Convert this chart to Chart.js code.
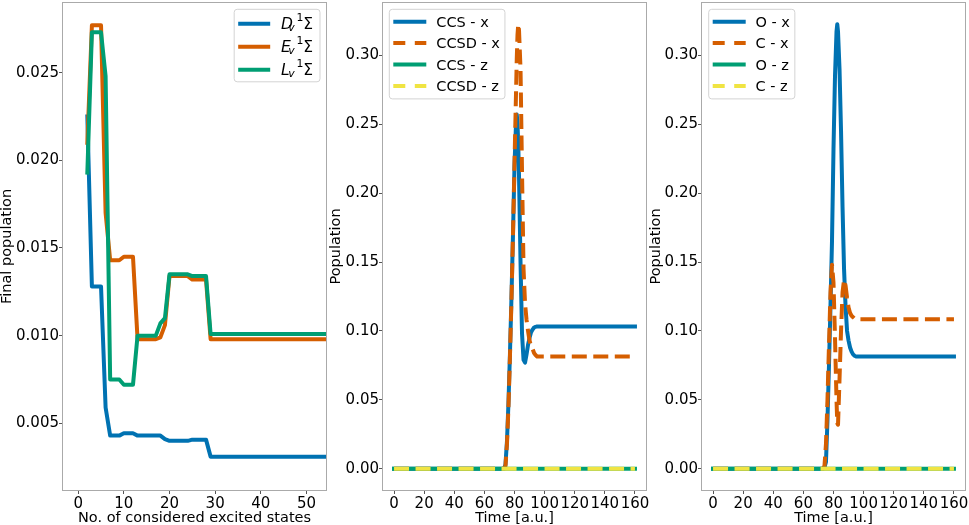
<!DOCTYPE html>
<html>
<head>
<meta charset="utf-8">
<script src="https://cdn.jsdelivr.net/npm/chart.js@4.4.1/dist/chart.umd.min.js"></script>
<style>
html, body { margin: 0; padding: 0; background: #ffffff; }
#wrap { position: relative; width: 969px; height: 525px; overflow: hidden; background: #fff; }
.panel { position: absolute; top: 0; height: 525px; }
</style>
</head>
<body>
<div id="wrap">
  <div class="panel" style="left:0px;width:329px"><canvas id="c1"></canvas></div>
  <div class="panel" style="left:329px;width:320px"><canvas id="c2"></canvas></div>
  <div class="panel" style="left:649px;width:320px"><canvas id="c3"></canvas></div>
</div>
<script>
// ---------------- DATA ----------------
// Panel 1: final population vs number of considered excited states
const excitedStates = [2, 3, 4, 5, 6, 7, 8, 9, 10, 11, 12, 13, 14, 15, 16, 17, 18, 19, 20, 21, 22, 23, 24, 25, 26, 27, 28,
  29, 30, 31, 32, 33, 34, 35, 36, 37, 38, 39, 40, 41, 42, 43, 44, 45, 46, 47, 48, 49, 50, 51, 52, 53, 54, 55];
const popD = [0.0225, 0.0128, 0.0128, 0.0128, 0.0059, 0.0043, 0.0043, 0.0043, 0.00443, 0.00443, 0.00443,
  0.0043, 0.0043, 0.0043, 0.0043, 0.0043, 0.0043, 0.0041, 0.0040, 0.0040, 0.0040, 0.0040, 0.0040,
  0.00407, 0.00407, 0.00407, 0.00407,
  0.0031, 0.0031, 0.0031, 0.0031, 0.0031, 0.0031, 0.0031, 0.0031, 0.0031,
  0.0031, 0.0031, 0.0031, 0.0031, 0.0031, 0.0031, 0.0031, 0.0031, 0.0031,
  0.0031, 0.0031, 0.0031, 0.0031, 0.0031, 0.0031, 0.0031, 0.0031, 0.0031];
const popE = [0.0210, 0.0277, 0.0277, 0.0277, 0.0170, 0.0143, 0.0143, 0.0143, 0.0145, 0.0145, 0.0145,
  0.0098, 0.0098, 0.0098, 0.0098, 0.0098, 0.0099, 0.0106, 0.0134, 0.0134, 0.0134, 0.0134, 0.0134,
  0.0132, 0.0132, 0.0132, 0.0132,
  0.0098, 0.0098, 0.0098, 0.0098, 0.0098, 0.0098, 0.0098, 0.0098, 0.0098,
  0.0098, 0.0098, 0.0098, 0.0098, 0.0098, 0.0098, 0.0098, 0.0098, 0.0098,
  0.0098, 0.0098, 0.0098, 0.0098, 0.0098, 0.0098, 0.0098, 0.0098, 0.0098];
const popL = [0.0193, 0.0273, 0.0273, 0.0273, 0.0248, 0.0075, 0.0075, 0.0075, 0.0072, 0.0072, 0.0072,
  0.0100, 0.0100, 0.0100, 0.0100, 0.0100, 0.0107, 0.0110, 0.0135, 0.0135, 0.0135, 0.0135, 0.0135,
  0.0134, 0.0134, 0.0134, 0.0134,
  0.0101, 0.0101, 0.0101, 0.0101, 0.0101, 0.0101, 0.0101, 0.0101, 0.0101,
  0.0101, 0.0101, 0.0101, 0.0101, 0.0101, 0.0101, 0.0101, 0.0101, 0.0101,
  0.0101, 0.0101, 0.0101, 0.0101, 0.0101, 0.0101, 0.0101, 0.0101, 0.0101];
const stateSymbols = ['D', 'E', 'L'];

// Panel 2: CCS vs CCSD populations in time
const times2 = [0, 10, 20, 30, 40, 50, 60, 70, 72, 73, 74, 75, 76, 77, 78, 79, 80, 81, 81.5, 82, 82.5,
  83, 84, 85, 86, 87, 88, 89, 90, 91, 92, 93, 94, 95, 96, 98, 100, 110, 120, 130, 140, 150, 160];
const popCCSx = [0, 0, 0, 0, 0, 0, 0, 0, 0, 0, 0.003, 0.02, 0.048, 0.084, 0.125, 0.17, 0.22, 0.25, 0.257, 0.25, 0.235,
  0.212, 0.15, 0.098, 0.079, 0.077, 0.083, 0.09, 0.095, 0.099, 0.101, 0.1025, 0.103, 0.1033, 0.1033,
  0.1033, 0.1033, 0.1033, 0.1033, 0.1033, 0.1033, 0.1033, 0.1033];
const popCCSDx = [0, 0, 0, 0, 0, 0, 0, 0, 0, 0, 0.002, 0.018, 0.045, 0.082, 0.123, 0.17, 0.222, 0.272, 0.297, 0.315, 0.3225,
  0.318, 0.29, 0.215, 0.145, 0.12, 0.108, 0.1, 0.093, 0.089, 0.087, 0.084, 0.0825, 0.0815, 0.0815,
  0.0815, 0.0815, 0.0815, 0.0815, 0.0815, 0.0815, 0.0815, 0.0815];

// Panel 3: O vs C populations in time
const times3 = [0, 10, 20, 30, 40, 50, 60, 70, 72, 73, 74, 75, 76, 77, 78, 79, 80, 81, 82, 82.5,
  83, 84, 85, 86, 87, 88, 89, 90, 91, 92, 93, 94, 95, 96, 98, 100, 110, 120, 130, 140, 150, 160];
const popOx = [0, 0, 0, 0, 0, 0, 0, 0, 0, 0, 0.001, 0.005, 0.035, 0.075, 0.118, 0.165, 0.232, 0.285, 0.317, 0.3225,
  0.317, 0.29, 0.245, 0.19, 0.145, 0.118, 0.1, 0.093, 0.088, 0.085, 0.083, 0.082, 0.0815, 0.0815,
  0.0815, 0.0815, 0.0815, 0.0815, 0.0815, 0.0815, 0.0815, 0.0815];
const popCx = [0, 0, 0, 0, 0, 0, 0, 0, 0, 0, 0.002, 0.018, 0.05, 0.09, 0.128, 0.148, 0.135, 0.095, 0.05, 0.033,
  0.032, 0.065, 0.1, 0.128, 0.137, 0.133, 0.124, 0.117, 0.113, 0.111, 0.11, 0.109, 0.1087, 0.1085,
  0.1085, 0.1085, 0.1085, 0.1085, 0.1085, 0.1085, 0.1085, 0.1085];

// z-polarised populations stay at zero
const timesZ = [0, 160];
const popCCSz = [0, 0];
const popCCSDz = [0, 0];
const popOz = [0, 0];
const popCz = [0, 0];

// Ticks
const xTicks1 = [0, 10, 20, 30, 40, 50];
const xTickLabels1 = ['0', '10', '20', '30', '40', '50'];
const yTicks1 = [0.005, 0.010, 0.015, 0.020, 0.025];
const yTickLabels1 = ['0.005', '0.010', '0.015', '0.020', '0.025'];
const xTicksT = [0, 20, 40, 60, 80, 100, 120, 140, 160];
const xTickLabelsT = ['0', '20', '40', '60', '80', '100', '120', '140', '160'];
const yTicksP = [0.00, 0.05, 0.10, 0.15, 0.20, 0.25, 0.30];
const yTickLabelsP = ['0.00', '0.05', '0.10', '0.15', '0.20', '0.25', '0.30'];

// ---------------- STYLE ----------------
const FONT = 'DejaVu Sans';
const C_BLUE = '#0072B2', C_ORANGE = '#D55E00', C_GREEN = '#009E73', C_YELLOW = '#F0E442';
const LW = 4;
const DASH = [15, 6.5];
Chart.defaults.font.family = FONT;
Chart.defaults.color = '#000';

function pts(xs, ys) { return xs.map((x, i) => ({ x: x, y: ys[i] })); }

function series(label, xs, ys, color, dashed, order, mathParts) {
  return {
    label: label,
    data: pts(xs, ys),
    borderColor: color,
    backgroundColor: color,
    borderWidth: LW,
    borderDash: dashed ? DASH : [],
    borderCapStyle: dashed ? 'butt' : 'square',
    borderJoinStyle: 'round',
    pointRadius: 0,
    pointHoverRadius: 0,
    tension: 0,
    fill: false,
    clip: 0,
    order: order,
    mathParts: mathParts
  };
}

function axis(isX, min, max, ticks, labels, title, fit, titlePad) {
  return {
    type: 'linear',
    min: min, max: max,
    afterBuildTicks: s => { s.ticks = ticks.map(v => ({ value: v })); },
    afterFit: s => {
      if (isX) s.height = fit; else s.width = fit;
      s.paddingLeft = 0; s.paddingRight = 0; s.paddingTop = 0; s.paddingBottom = 0;
    },
    ticks: {
      callback: (v, i) => labels[i],
      font: { size: 15 },
      color: '#000',
      padding: isX ? 1 : 0,
      autoSkip: false, maxRotation: 0, minRotation: 0
    },
    grid: { display: true, drawOnChartArea: false, drawTicks: true, tickLength: 3, color: '#555555', lineWidth: 1 },
    border: { display: false },
    title: { display: true, text: title, color: '#000', font: { size: 14.5, lineHeight: 1 }, padding: titlePad }
  };
}

function mathWidth(ctx, parts, em) {
  ctx.font = em + 'px "' + FONT + '"';
  return 1.44 * em + ctx.measureText(parts[3]).width;
}
function drawMath(ctx, parts, x, base, em) {
  ctx.font = 'italic ' + em + 'px "' + FONT + '"';
  ctx.fillText(parts[0], x, base);
  ctx.font = 'italic ' + (0.7 * em) + 'px "' + FONT + '"';
  ctx.fillText(parts[1], x + 0.47 * em, base + 0.13 * em);
  ctx.font = (0.7 * em) + 'px "' + FONT + '"';
  ctx.fillText(parts[2], x + 1.01 * em, base - 0.52 * em);
  ctx.font = em + 'px "' + FONT + '"';
  ctx.fillText(parts[3], x + 1.44 * em, base);
}

const mplFrame = {
  id: 'mplFrame',
  afterDatasetsDraw(chart, args, o) {
    const ctx = chart.ctx, a = chart.chartArea;
    ctx.save();
    // spines
    ctx.setLineDash([]);
    ctx.strokeStyle = '#aaaaaa';
    ctx.lineWidth = 1;
    ctx.strokeRect(Math.round(a.left) + 0.5, Math.round(a.top) + 0.5,
      Math.round(a.right) - Math.round(a.left) - 1, Math.round(a.bottom) - Math.round(a.top) - 1);
    // legend
    const L = o.legend;
    const items = chart.data.datasets;
    ctx.font = L.fontSize + 'px "' + FONT + '"';
    const widths = items.map(ds => ds.mathParts ? mathWidth(ctx, ds.mathParts, L.mathSize) : ctx.measureText(ds.label).width);
    const w = L.padL + L.lineLen + L.gap + Math.max.apply(null, widths) + L.padR;
    const h = L.padT + L.rowH * (items.length - 1) + L.padB;
    const x0 = L.anchor === 'right' ? a.right - L.dx - w : a.left + L.dx;
    const y0 = a.top + L.dy;
    const r = 3;
    ctx.beginPath();
    ctx.moveTo(x0 + r, y0);
    ctx.lineTo(x0 + w - r, y0); ctx.quadraticCurveTo(x0 + w, y0, x0 + w, y0 + r);
    ctx.lineTo(x0 + w, y0 + h - r); ctx.quadraticCurveTo(x0 + w, y0 + h, x0 + w - r, y0 + h);
    ctx.lineTo(x0 + r, y0 + h); ctx.quadraticCurveTo(x0, y0 + h, x0, y0 + h - r);
    ctx.lineTo(x0, y0 + r); ctx.quadraticCurveTo(x0, y0, x0 + r, y0);
    ctx.closePath();
    ctx.fillStyle = 'rgba(255,255,255,0.8)';
    ctx.fill();
    ctx.strokeStyle = '#d3d3d3';
    ctx.lineWidth = 1;
    ctx.stroke();
    items.forEach((ds, i) => {
      const cy = y0 + L.padT + i * L.rowH;
      ctx.beginPath();
      ctx.setLineDash(ds.borderDash && ds.borderDash.length ? L.legendDash : []);
      ctx.lineDashOffset = 0;
      ctx.lineCap = 'butt';
      ctx.lineWidth = ds.borderWidth;
      ctx.strokeStyle = ds.borderColor;
      ctx.moveTo(x0 + L.padL, cy);
      ctx.lineTo(x0 + L.padL + L.lineLen, cy);
      ctx.stroke();
      ctx.setLineDash([]);
      const tx = x0 + L.padL + L.lineLen + L.gap;
      ctx.fillStyle = '#000';
      ctx.textAlign = 'left';
      ctx.textBaseline = 'alphabetic';
      if (ds.mathParts) {
        drawMath(ctx, ds.mathParts, tx, cy + 0.729 * L.mathSize / 2, L.mathSize);
      } else {
        ctx.font = L.fontSize + 'px "' + FONT + '"';
        ctx.fillText(ds.label, tx, cy + 0.729 * L.fontSize / 2);
      }
    });
    ctx.restore();
  }
};

function makeChart(id, datasets, scales, padRight, legend) {
  return new Chart(document.getElementById(id), {
    type: 'line',
    data: { datasets: datasets },
    options: {
      responsive: true,
      maintainAspectRatio: false,
      animation: false,
      events: [],
      layout: { padding: { left: 0, right: padRight, top: 2, bottom: 0 } },
      scales: scales,
      plugins: {
        legend: { display: false },
        tooltip: { enabled: false },
        mplFrame: { legend: legend }
      }
    },
    plugins: [mplFrame]
  });
}

// ---------------- PANEL 1 ----------------
makeChart('c1', [
  series(stateSymbols[0] + 'ᵥ¹Σ', excitedStates, popD, C_BLUE, false, 2, [stateSymbols[0], 'v', '1', 'Σ']),
  series(stateSymbols[1] + 'ᵥ¹Σ', excitedStates, popE, C_ORANGE, false, 1, [stateSymbols[1], 'v', '1', 'Σ']),
  series(stateSymbols[2] + 'ᵥ¹Σ', excitedStates, popL, C_GREEN, false, 0, [stateSymbols[2], 'v', '1', 'Σ'])
], {
  x: axis(true, -3.55, 54.5, xTicks1, xTickLabels1, 'No. of considered excited states', 34, 0),
  y: axis(false, 0.00114, 0.02903, yTicks1, yTickLabels1, 'Final population', 62, { top: 0.4, bottom: 0 })
}, 2, { anchor: 'right', dx: 7, dy: 7.3, padL: 4, lineLen: 32, gap: 10.7, padR: 7, padT: 14.5, rowH: 23, padB: 12,
  fontSize: 14.5, mathSize: 15.5, legendDash: [12, 9.5] });

// ---------------- PANEL 2 ----------------
makeChart('c2', [
  series('CCS - x', times2, popCCSx, C_BLUE, false, 3),
  series('CCSD - x', times2, popCCSDx, C_ORANGE, true, 2),
  series('CCS - z', timesZ, popCCSz, C_GREEN, false, 1),
  series('CCSD - z', timesZ, popCCSDz, C_YELLOW, true, 0)
], {
  x: axis(true, -8, 168, xTicksT, xTickLabelsT, 'Time [a.u.]', 34, 0),
  y: axis(false, -0.0161, 0.3386, yTicksP, yTickLabelsP, 'Population', 53, { top: 0.4, bottom: 0 })
}, 2, { anchor: 'left', dx: 7.3, dy: 7.3, padL: 4, lineLen: 33, gap: 10, padR: 5, padT: 12.4, rowH: 21.4, padB: 13,
  fontSize: 14.5, mathSize: 15.5, legendDash: [12, 9.5] });

// ---------------- PANEL 3 ----------------
makeChart('c3', [
  series('O - x', times3, popOx, C_BLUE, false, 3),
  series('C - x', times3, popCx, C_ORANGE, true, 2),
  series('O - z', timesZ, popOz, C_GREEN, false, 1),
  series('C - z', timesZ, popCz, C_YELLOW, true, 0)
], {
  x: axis(true, -8, 168, xTicksT, xTickLabelsT, 'Time [a.u.]', 34, 0),
  y: axis(false, -0.0161, 0.3386, yTicksP, yTickLabelsP, 'Population', 52, { top: 0.4, bottom: 0 })
}, 3, { anchor: 'left', dx: 7.7, dy: 7.3, padL: 4, lineLen: 33, gap: 9.7, padR: 5, padT: 12.4, rowH: 21.4, padB: 13,
  fontSize: 14.5, mathSize: 15.5, legendDash: [12, 9.5] });
</script>
</body>
</html>
